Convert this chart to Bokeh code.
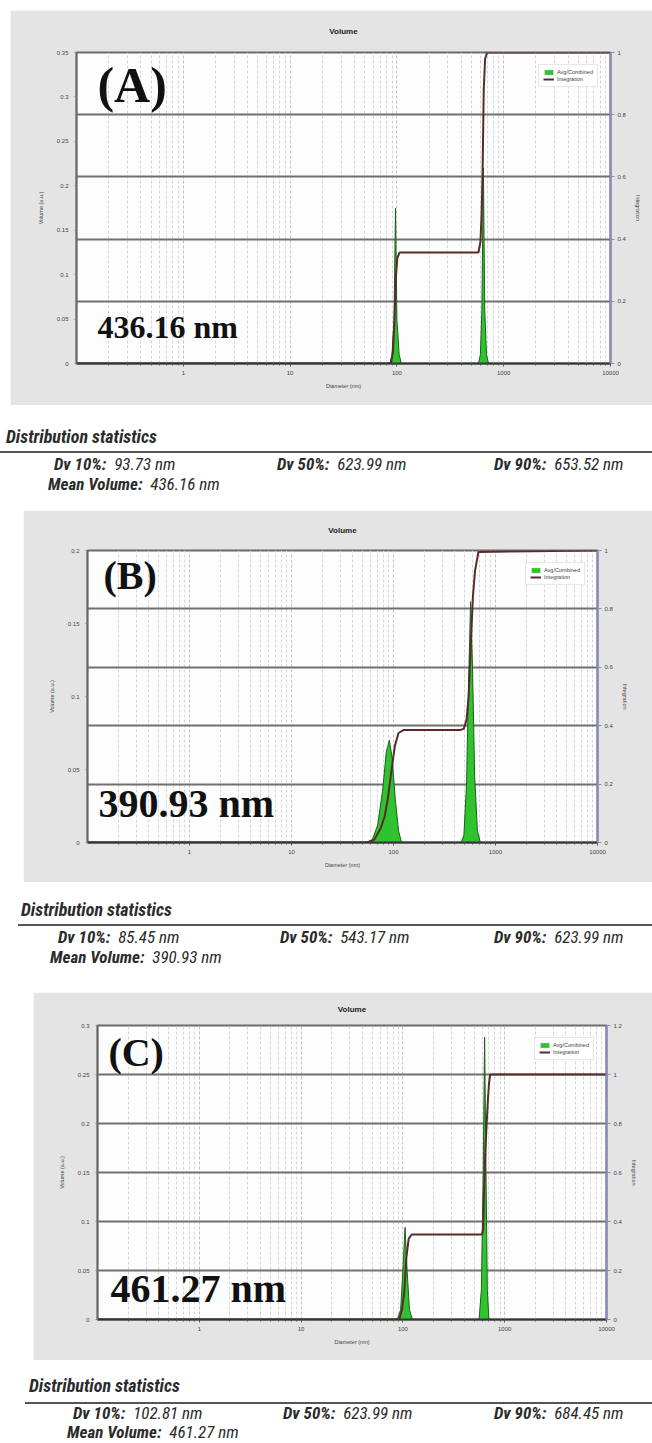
from bokeh.plotting import figure
from bokeh.models import Range1d, LinearAxis, FixedTicker, Grid, Div, Legend, LegendItem, Label, Title
from bokeh.layouts import column, row
from bokeh.embed import file_html
from bokeh.resources import INLINE

# ---------------- data ----------------
x_major = [1, 10, 100, 1000, 10000]
x_labels = ["1", "10", "100", "1000", "10000"]

# panel A
a_dist_x = [0.1, 86, 90, 94, 97, 100, 105, 110, 580, 605, 625, 645, 665, 690, 720, 10000]
a_dist_y = [0, 0, 0.01, 0.05, 0.175, 0.05, 0.01, 0, 0, 0.01, 0.06, 0.22, 0.06, 0.01, 0, 0]
a_int_x = [0.1, 88, 92, 95, 98, 101, 106, 580, 605, 620, 635, 650, 670, 700, 10000]
a_int_y = [0, 0, 0.04, 0.14, 0.28, 0.34, 0.357, 0.357, 0.39, 0.47, 0.62, 0.88, 0.98, 1, 1]
a_vol_ticks = [0, 0.05, 0.1, 0.15, 0.2, 0.25, 0.3, 0.35]
a_int_ticks = [0, 0.2, 0.4, 0.6, 0.8, 1]

# panel B
b_dist_x = [0.1, 55, 62, 70, 78, 85, 91, 97, 104, 112, 120, 460, 490, 520, 545, 570, 595, 625, 665, 710, 10000]
b_dist_y = [0, 0, 0.002, 0.012, 0.035, 0.062, 0.07, 0.058, 0.03, 0.008, 0, 0, 0.005, 0.04, 0.11, 0.165, 0.12, 0.045, 0.008, 0, 0]
b_int_x = [0.1, 55, 65, 75, 82, 88, 95, 103, 112, 125, 450, 490, 520, 545, 570, 600, 630, 680, 10000]
b_int_y = [0, 0, 0.01, 0.05, 0.09, 0.15, 0.24, 0.33, 0.375, 0.385, 0.385, 0.39, 0.42, 0.50, 0.66, 0.84, 0.93, 0.995, 1]
b_vol_ticks = [0, 0.05, 0.1, 0.15, 0.2]
b_int_ticks = [0, 0.2, 0.4, 0.6, 0.8, 1]

# panel C
c_dist_x = [0.1, 88, 95, 100, 105, 110, 116, 124, 560, 590, 615, 635, 655, 675, 700, 10000]
c_dist_y = [0, 0, 0.01, 0.05, 0.094, 0.05, 0.01, 0, 0, 0.03, 0.15, 0.288, 0.15, 0.03, 0, 0]
c_int_x = [0.1, 92, 98, 103, 108, 114, 122, 600, 615, 625, 645, 665, 685, 700, 720, 10000]
c_int_y = [0, 0, 0.04, 0.11, 0.25, 0.33, 0.347, 0.347, 0.37, 0.5, 0.68, 0.8, 0.9, 0.96, 1, 1]
c_vol_ticks = [0, 0.05, 0.1, 0.15, 0.2, 0.25, 0.3]
c_int_ticks = [0, 0.2, 0.4, 0.6, 0.8, 1, 1.2]

tags = ["(A)", "(B)", "(C)"]
dv10 = ["93.73", "85.45", "102.81"]
dv50 = ["623.99", "543.17", "623.99"]
dv90 = ["653.52", "623.99", "684.45"]
mean_vol = ["436.16", "390.93", "461.27"]

# ---------------- styling helpers ----------------
SANS = "Liberation Sans"
SERIF = "Liberation Serif"
minor = [m * 10.0 ** e for e in range(-1, 4) for m in range(2, 10)]


def panel(dx, dy, ix, iy, vticks, iticks, w, h, borders, margin_left, margin_top, title_standoff,
          tag, tag_pos, tag_size, mean, mean_pos, mean_size):
    bl, br, bt, bb = borders
    p = figure(width=w, height=h, x_axis_type="log",
               x_range=Range1d(0.1, 10000), y_range=Range1d(0, vticks[-1]),
               output_backend="svg", toolbar_location=None,
               min_border_left=bl, min_border_right=br, min_border_top=bt, min_border_bottom=bb)
    p.margin = (margin_top, 0, 0, margin_left)
    p.border_fill_color = "#e4e4e4"
    p.background_fill_color = "#fdfdfd"
    p.outline_line_color = "#6a6a6a"
    p.outline_line_width = 2

    p.title.text = "Volume"
    p.title.align = "center"
    p.title.vertical_align = "top"
    p.title.text_font = SANS
    p.title.text_font_size = "8px"
    p.title.text_font_style = "bold"
    p.title.text_color = "#222222"
    p.title.standoff = title_standoff

    p.extra_y_ranges = {"int": Range1d(0, iticks[-1])}

    # grids
    xt = FixedTicker(ticks=x_major, minor_ticks=minor)
    p.xaxis.ticker = xt
    p.xgrid.ticker = xt
    p.xgrid.grid_line_color = "#c4c4c4"
    p.xgrid.grid_line_dash = "3 2"
    p.xgrid.minor_grid_line_color = "#d6d6d6"
    p.xgrid.minor_grid_line_dash = "3 2"
    p.ygrid.visible = False
    p.add_layout(Grid(dimension=1, y_range_name="int",
                      ticker=FixedTicker(ticks=iticks[1:-1]),
                      grid_line_color="#707070", grid_line_width=2))

    # bottom axis
    ax = p.xaxis[0]
    ax.major_label_overrides = {t: l for t, l in zip(x_major, x_labels)}
    ax.axis_label = "Diameter (nm)"
    ax.axis_label_text_font = SANS
    ax.axis_label_text_font_size = "5.5px"
    ax.axis_label_text_font_style = "normal"
    ax.axis_label_standoff = 5
    ax.major_label_text_font = SANS
    ax.major_label_text_font_size = "6px"
    ax.major_label_standoff = 4
    ax.axis_line_color = "#333333"
    ax.axis_line_width = 2
    ax.major_tick_line_color = "#555555"
    ax.minor_tick_line_color = "#555555"
    ax.major_tick_out = 3
    ax.major_tick_in = 0
    ax.minor_tick_out = 2
    ax.minor_tick_in = 0

    # left axis
    ay = p.yaxis[0]
    ay.ticker = FixedTicker(ticks=vticks)
    ay.major_label_overrides = {t: f"{t:g}" for t in vticks}
    ay.axis_label = "Volume (a.u.)"
    ay.axis_label_text_font = SANS
    ay.axis_label_text_font_size = "5.5px"
    ay.axis_label_text_font_style = "normal"
    ay.axis_label_standoff = 10
    ay.major_label_text_font = SANS
    ay.major_label_text_font_size = "6px"
    ay.major_label_standoff = 6
    ay.axis_line_color = "#666666"
    ay.axis_line_width = 1.5
    ay.major_tick_line_color = "#888888"
    ay.major_tick_out = 2
    ay.major_tick_in = 0
    ay.minor_tick_line_color = None

    # right axis (its label is a side title to keep the panel narrow)
    ar = LinearAxis(y_range_name="int", ticker=FixedTicker(ticks=iticks))
    ar.major_label_overrides = {t: f"{t:g}" for t in iticks}
    ar.major_label_text_font = SANS
    ar.major_label_text_font_size = "6px"
    ar.major_label_standoff = 3
    ar.axis_line_color = "#8a8ac4"
    ar.axis_line_width = 2
    ar.major_tick_line_color = "#8a8ac4"
    ar.major_tick_out = 4
    ar.major_tick_in = 0
    ar.minor_tick_line_color = None
    p.add_layout(ar, "right")
    p.add_layout(Title(text="Integration", align="center", text_font=SANS,
                       text_font_size="5.5px", text_font_style="normal", standoff=12), "right")

    # data
    area = p.varea(x=dx, y1=0, y2=dy, fill_color="#2fc42f", fill_alpha=1.0)
    p.line(x=dx, y=dy, line_color="#1d5e1d", line_width=1)
    ln = p.line(x=ix, y=iy, y_range_name="int", line_color="#5a2a2a", line_width=2)

    leg = Legend(items=[LegendItem(label="Avg/Combined", renderers=[area]),
                        LegendItem(label="Integration", renderers=[ln])],
                 location="top_right")
    leg.label_text_font = SANS
    leg.label_text_font_size = "5.5px"
    leg.label_height = 6
    leg.label_standoff = 3
    leg.glyph_height = 6
    leg.glyph_width = 11
    leg.spacing = 1
    leg.padding = 4
    leg.margin = 12
    leg.border_line_color = "#cfcfcf"
    leg.background_fill_color = "white"
    leg.background_fill_alpha = 0.9
    p.add_layout(leg)

    p.add_layout(Label(x=tag_pos[0], y=tag_pos[1], text=tag, text_font=SERIF,
                       text_font_size=tag_size, text_font_style="bold", text_color="#111111",
                       text_baseline="alphabetic"))
    p.add_layout(Label(x=mean_pos[0], y=mean_pos[1], text=mean + " nm", text_font=SERIF,
                       text_font_size=mean_size, text_font_style="bold", text_color="#111111",
                       text_baseline="alphabetic"))
    return p


NARROW = "'Liberation Sans Narrow','Arial Narrow','Roboto Condensed',sans-serif"


def stats(i, h, title_left, title_top, line_left, line_top, row1_top, row2_top, lefts, mean_left):
    def lab(left, top, size, bold_part, val):
        return (f'<div style="position:absolute;left:{left}px;top:{top}px;font-size:{size}px;'
                f'line-height:{size}px;white-space:nowrap;font-style:italic;">'
                f'<b>{bold_part}</b>&nbsp; {val}</div>')
    html = (f'<div style="position:relative;width:652px;height:{h}px;font-family:{NARROW};color:#2b2b2b;">'
            f'<div style="position:absolute;left:{title_left}px;top:{title_top}px;font-size:18px;line-height:18px;'
            f'font-weight:bold;font-style:italic;white-space:nowrap;">Distribution statistics</div>'
            f'<div style="position:absolute;left:{line_left}px;top:{line_top}px;width:{652 - line_left}px;height:2px;background:#555;"></div>'
            + lab(lefts[0], row1_top, 17, "Dv 10%:", dv10[i] + " nm")
            + lab(lefts[1], row1_top, 17, "Dv 50%:", dv50[i] + " nm")
            + lab(lefts[2], row1_top, 17, "Dv 90%:", dv90[i] + " nm")
            + lab(mean_left, row2_top, 17, "Mean Volume:", mean_vol[i] + " nm")
            + '</div>')
    return Div(text=html, width=652, height=h, margin=(0, 0, 0, 0))


pa = panel(a_dist_x, a_dist_y, a_int_x, a_int_y, a_vol_ticks, a_int_ticks,
           642, 395, (66, 42, 42, 42), 10, 10, 29,
           tags[0], (0.157, 0.313), "50px", mean_vol[0], (0.157, 0.0415), "32px")
sa = stats(0, 105, 6, 23, 0, 46, 51, 71, (54, 277, 494), 48)

pb = panel(b_dist_x, b_dist_y, b_int_x, b_int_y, b_vol_ticks, b_int_ticks,
           629, 372, (64, 55, 40, 40), 23, 0, 27,
           tags[1], (0.1435, 0.183), "40px", mean_vol[1], (0.128, 0.0267), "40px")
sb = stats(1, 110, 21, 19, 18, 42, 47, 67, (58, 280, 494), 50)

pc = panel(c_dist_x, c_dist_y, c_int_x, c_int_y, c_vol_ticks, c_int_ticks,
           619, 368, (64, 46, 33, 41), 33, 0, 20,
           tags[2], (0.128, 0.272), "40px", mean_vol[2], (0.134, 0.0316), "40px")
sc = stats(2, 83, 29, 17, 25, 42, 45, 64, (73, 283, 494), 67)

layout = column(row(pa), sa, row(pb), sb, row(pc), sc, spacing=0)
open("out.html", "w").write(file_html(layout, INLINE))
